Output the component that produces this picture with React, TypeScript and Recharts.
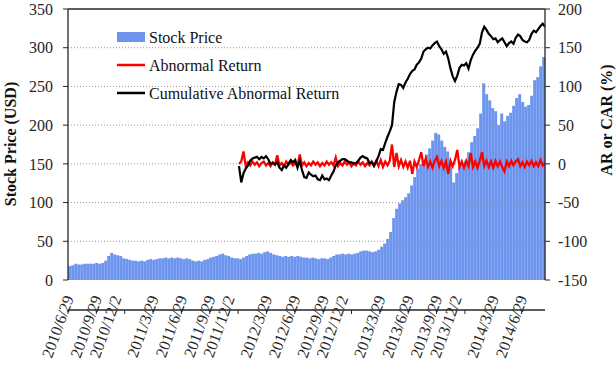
import React from 'react';
import { ComposedChart, Bar, Line, XAxis, YAxis, ReferenceLine } from 'recharts';

// Axis tick labels, one per quarter tick (every 63 trading days)
const dateLabels = [
  '2010/6/29', '2010/9/29', '2010/12/2', '2011/3/29', '2011/6/29', '2011/9/29',
  '2011/12/2', '2012/3/29', '2012/6/29', '2012/9/29', '2012/12/2', '2013/3/29',
  '2013/6/29', '2013/9/29', '2013/12/2', '2014/3/29', '2014/6/29',
];
const priceTicks = [0, 50, 100, 150, 200, 250, 300, 350];
const returnTicks = [-150, -100, -50, 0, 50, 100, 150, 200];
const gridValues = [50, 100, 150, 200, 250, 300];

// Closing price (USD), evenly spaced over the whole period
const priceValues = [
  18, 19, 21, 20, 20, 21, 21, 21, 21, 22, 21, 22, 25, 31, 35, 33, 32, 31, 28, 27,
  26, 25, 25, 24, 25, 24, 26, 27, 26, 27, 28, 28, 29, 28, 29, 28, 29, 28, 27, 28,
  27, 25, 24, 25, 24, 26, 27, 29, 30, 31, 33, 34, 32, 31, 29, 28, 28, 27, 29, 31,
  33, 34, 34, 35, 34, 36, 37, 35, 33, 32, 31, 30, 31, 30, 31, 30, 31, 30, 29, 29,
  28, 29, 28, 27, 28, 28, 27, 29, 31, 33, 33, 34, 33, 34, 33, 34, 35, 37, 38, 38,
  37, 36, 37, 39, 43, 47, 53, 62, 80, 92, 99, 103, 107, 112, 122, 133, 144, 150, 155, 162,
  170, 180, 190, 188, 180, 172, 166, 150, 126, 138, 146, 150, 154, 165, 178, 186, 196, 215, 254, 240,
  232, 222, 218, 200, 215, 205, 212, 216, 225, 235, 240, 230, 224, 226, 238, 258, 262, 276, 288,
];

// Abnormal return (%), sampled every 5 trading days from day 380
const arValues = [
  0, 3, 16, -3, 2, -2, 3, -1, 2, -3, 1, 3, -2, 1, -3, 2, -1, 11, -2, 1,
  -3, 3, -1, 2, -2, 1, -3, 12, -2, 2, -3, 1, -2, 3, -1, 2, -3, 1, -2, 3,
  -1, 2, -2, 8, -3, 1, -2, 3, -1, 2, -3, 1, -2, 3, -1, 2, -3, 1, -2, 3,
  -2, 4, -3, 5, -4, 3, -2, 4, 25, -4, 14, -3, 5, -4, 3, -5, 4, -13, 3, -4,
  5, 15, -3, 7, -4, 3, -5, 4, 9, -3, 4, -5, 3, -13, 4, -3, 5, 18, -4, 3,
  -5, 4, -3, 14, -4, 3, -5, 4, 15, -3, 4, -4, 3, -5, 4, -3, 3, -4, -10, 3,
  -3, 4, -2, 3, 6, -3, 2, -4, 3, -2, 4, -3, 2, -3, 5, -2, 1,
];

// Cumulative abnormal return (%), same sampling as the abnormal return
const carValues = [
  -3, -24, -12, -6, -2, 4, 7, 8, 9, 6, 9, 7, 10, 6, 0, 1, -1, 2, -5, -8,
  -2, -5, 0, 5, 2, 5, -5, 4, -8, -17, -18, -11, -14, -16, -15, -20, -21, -15, -20, -19,
  -21, -15, -10, -2, 2, 4, 6, 6, 4, 2, 2, 0, 1, 4, 8, 10, 8, 7, 1, 2,
  -3, 3, 10, 19, 18, 27, 35, 42, 50, 80, 93, 103, 102, 98, 105, 110, 116, 120, 122, 128,
  131, 136, 145, 148, 150, 149, 153, 156, 158, 152, 148, 142, 145, 136, 123, 113, 107, 114, 124, 128,
  127, 130, 123, 134, 141, 146, 150, 155, 170, 177, 173, 168, 165, 161, 162, 157, 160, 162, 157, 152,
  156, 158, 155, 163, 167, 165, 160, 158, 157, 160, 168, 172, 170, 174, 178, 181, 177,
];

const TRADING_DAYS = 1060;
const DAYS_PER_TICK = 63;
const RETURN_START_DAY = 380;
const RETURN_STEP = 5;

const BLUE = '#6e95ee';
const FONT = "'Liberation Serif', 'Times New Roman', serif";
const AXIS = '#262626';

const legendItems = [
  { name: 'Stock Price', color: BLUE, kind: 'rect' },
  { name: 'Abnormal Return', color: '#ff0000', kind: 'line' },
  { name: 'Cumulative Abnormal Return', color: '#000000', kind: 'line' },
];

const priceData = priceValues.map((price, i) => ({ slot: i, price }));
const arData = arValues.map((v, i) => ({ t: RETURN_START_DAY + i * RETURN_STEP, v }));
const carData = carValues.map((v, i) => ({ t: RETURN_START_DAY + i * RETURN_STEP, v }));
const dayTicks = dateLabels.map((_, k) => k * DAYS_PER_TICK);

// Dates are drawn steeply slanted, their ends hanging just off each tick
const DateTick = ({ x, payload }: { x: number; y: number; payload: { value: number } }) => {
  const label = dateLabels[Math.round(payload.value / DAYS_PER_TICK)];
  const shift = label.includes('/12/') ? -3 : 6;
  const ax = x + shift;
  const ay = 298;
  return (
    <text
      x={ax}
      y={ay}
      textAnchor="end"
      fontFamily={FONT}
      fontSize={16}
      fill={AXIS}
      transform={`rotate(-70 ${ax} ${ay})`}
    >
      {label}
    </text>
  );
};

const tickStyle = { fontFamily: FONT, fontSize: 16, fill: AXIS };

export default function App() {
  return (
    <div style={{ position: 'absolute', left: 0, top: 0, width: 616, height: 371, background: '#fff' }}>
      <ComposedChart width={616} height={371} data={priceData} margin={{ top: 9, right: 0, bottom: 0, left: 0 }} barCategoryGap="6%">
        <XAxis xAxisId="bar" dataKey="slot" type="category" hide />
        <XAxis
          xAxisId="time"
          dataKey="t"
          type="number"
          domain={[0, TRADING_DAYS]}
          allowDataOverflow
          ticks={dayTicks}
          interval={0}
          height={91}
          tickSize={4}
          tickMargin={2}
          tick={DateTick}
          axisLine={{ stroke: AXIS, strokeWidth: 1.3 }}
          tickLine={{ stroke: AXIS }}
        />
        <YAxis
          yAxisId="left"
          orientation="left"
          domain={[0, 350]}
          ticks={priceTicks}
          interval={0}
          width={68}
          tickSize={5}
          tickMargin={10}
          tick={tickStyle}
          axisLine={{ stroke: AXIS, strokeWidth: 1.3 }}
          tickLine={{ stroke: AXIS }}
        />
        <YAxis
          yAxisId="right"
          orientation="right"
          domain={[-150, 200]}
          ticks={returnTicks}
          interval={0}
          width={71}
          tickSize={5}
          tickMargin={8}
          tick={{ ...tickStyle, textAnchor: 'start' }}
          axisLine={{ stroke: AXIS, strokeWidth: 1.3 }}
          tickLine={{ stroke: AXIS }}
        />
        <Bar xAxisId="bar" yAxisId="left" dataKey="price" fill={BLUE} isAnimationActive={false} />
        {gridValues.map((g) => (
          <ReferenceLine key={g} xAxisId="time" yAxisId="left" y={g} stroke="#9a9a9a" strokeDasharray="1 2" />
        ))}
        <ReferenceLine xAxisId="time" yAxisId="left" y={350} stroke={AXIS} strokeWidth={1.3} />
        <Line
          xAxisId="time"
          yAxisId="right"
          data={arData}
          dataKey="v"
          type="linear"
          stroke="#ff0000"
          strokeWidth={2.3}
          dot={false}
          isAnimationActive={false}
        />
        <Line
          xAxisId="time"
          yAxisId="right"
          data={carData}
          dataKey="v"
          type="linear"
          stroke="#000000"
          strokeWidth={2.2}
          dot={false}
          isAnimationActive={false}
        />
      </ComposedChart>
      <svg width={616} height={371} style={{ position: 'absolute', left: 0, top: 0, pointerEvents: 'none' }}>
        <text
          x={16}
          y={144}
          textAnchor="middle"
          fontFamily={FONT}
          fontSize={16}
          fontWeight="bold"
          fill="#111"
          transform="rotate(-90 16 144)"
        >
          Stock Price (USD)
        </text>
        <text
          x={612}
          y={120}
          textAnchor="middle"
          fontFamily={FONT}
          fontSize={16}
          fontWeight="bold"
          fill="#111"
          transform="rotate(-90 612 120)"
        >
          AR or CAR (%)
        </text>
        {legendItems.map((item, k) => {
          const cy = 37 + k * 28;
          return (
            <g key={item.name}>
              {item.kind === 'rect' ? (
                <rect x={117} y={cy - 5} width={28} height={10} fill={item.color} />
              ) : (
                <line x1={117} x2={145} y1={cy} y2={cy} stroke={item.color} strokeWidth={2.5} />
              )}
              <text x={149} y={cy + 5.5} fontFamily={FONT} fontSize={16} fill="#111">
                {item.name}
              </text>
            </g>
          );
        })}
      </svg>
    </div>
  );
}
